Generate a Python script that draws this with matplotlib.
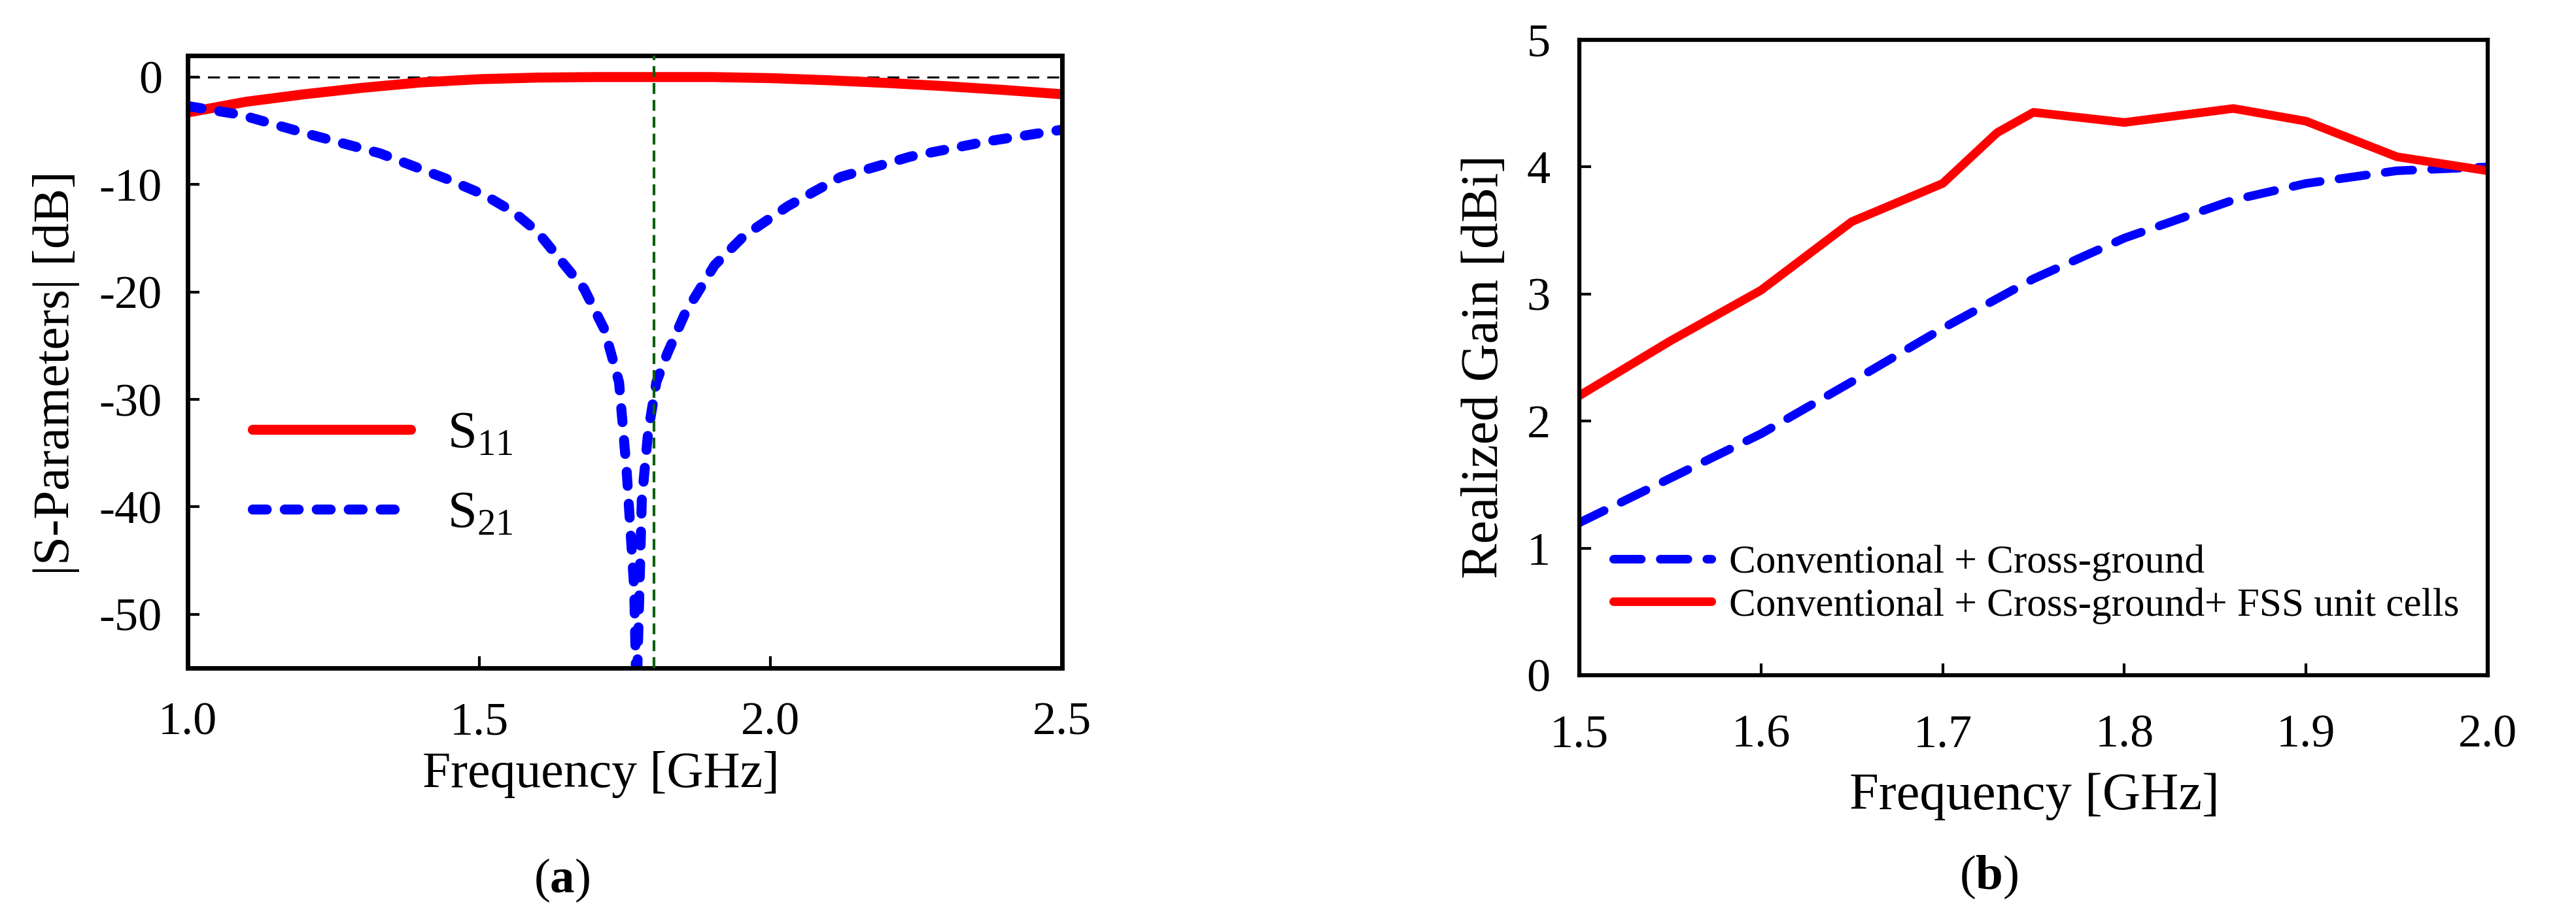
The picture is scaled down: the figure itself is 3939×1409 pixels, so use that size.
import matplotlib
matplotlib.use("Agg")
import matplotlib.pyplot as plt
import numpy as np

plt.rcParams['font.family'] = ['Liberation Serif', 'DejaVu Serif']
plt.rcParams['mathtext.fontset'] = 'custom'
plt.rcParams['mathtext.rm'] = 'Liberation Serif'
plt.rcParams['mathtext.it'] = 'Liberation Serif:italic'
plt.rcParams['mathtext.bf'] = 'Liberation Serif:bold'
plt.rcParams['axes.unicode_minus'] = False

# ---- panel (a): S-parameters ----
freq_s11 = [1.0, 1.1, 1.2, 1.3, 1.4, 1.5, 1.6, 1.7, 1.8, 1.9, 2.0, 2.1, 2.2, 2.3, 2.4, 2.5]
s11 = [-3.3, -2.3, -1.6, -1.0, -0.5, -0.2, -0.05, 0.0, 0.0, 0.0, -0.1, -0.3, -0.55, -0.85, -1.2, -1.6]

freq_s21 = [1.0, 1.09, 1.2, 1.33, 1.45, 1.51, 1.56, 1.6, 1.63, 1.68, 1.715, 1.74, 1.753, 1.766, 1.770,
            1.779, 1.79, 1.804, 1.823, 1.854, 1.904, 1.954, 2.03, 2.12, 2.24, 2.37, 2.5]
s21 = [-2.7, -3.5, -5.2, -7.1, -9.6, -11.0, -12.6, -14.4, -16.4, -19.7, -23.5, -28.4, -36.6, -47.6, -58.0,
       -39.4, -33.0, -28.4, -25.7, -21.9, -17.5, -14.8, -12.0, -9.3, -7.4, -6.0, -4.9]

f_mark = 1.8
a_xticks = [1.0, 1.5, 2.0, 2.5]
a_yticks = [0, -10, -20, -30, -40, -50]

# ---- panel (b): realized gain ----
freq_red = [1.5, 1.55, 1.6, 1.65, 1.7, 1.73, 1.75, 1.8, 1.86, 1.9, 1.95, 2.0]
gain_fss = [2.2, 2.63, 3.03, 3.57, 3.87, 4.27, 4.43, 4.35, 4.46, 4.36, 4.08, 3.97]

freq_blue = [1.5, 1.6, 1.65, 1.7, 1.75, 1.8, 1.86, 1.9, 1.95, 2.0]
gain_conv = [1.2, 1.9, 2.31, 2.73, 3.12, 3.44, 3.74, 3.87, 3.97, 4.0]

b_xticks = [1.5, 1.6, 1.7, 1.8, 1.9, 2.0]
b_yticks = [0, 1, 2, 3, 4, 5]

W, H = 3939, 1409
fig = plt.figure(figsize=(W / 100, H / 100), dpi=100)

def style_axes(ax, spine_w, ypad, xpad):
    for s in ax.spines.values():
        s.set_linewidth(spine_w)
    ax.tick_params(direction='in', length=13, width=3, labelsize=52,
                   top=False, right=False)
    ax.tick_params(axis='y', pad=ypad)
    ax.tick_params(axis='x', pad=xpad)

# panel (a)
ax1 = fig.add_axes([287 / W, 1 - 1022 / H, 1337 / W, 937 / H])
ax1.axhline(0, color='black', lw=2.2, ls=(0, (6, 4)), zorder=1)
ax1.axvline(f_mark, color='#0f5f0f', lw=3, ls=(0, (4, 2.2)), zorder=3)
ax1.plot(freq_s11, s11, color='red', lw=11, solid_capstyle='round', label=r'S$_{\mathrm{11}}$', zorder=2)
ax1.plot(freq_s21, s21, color='blue', lw=11, dashes=(1.4, 1.8), dash_capstyle='round',
         label=r'S$_{\mathrm{21}}$', zorder=2)
ax1.set_xlim(1.0, 2.5)
ax1.set_ylim(-55, 2)
ax1.set_xticks(a_xticks)
ax1.set_xticklabels([f'{v:.1f}' for v in a_xticks])
ax1.set_yticks(a_yticks)
ax1.set_yticklabels([str(v) for v in a_yticks])
style_axes(ax1, 5, 28, 37)
ax1.set_xlabel('Frequency [GHz]', fontsize=56)
ax1.xaxis.set_label_coords(0.473, -0.174)
ax1.xaxis.label.set_va('center')
ax1.set_ylabel('|S-Parameters| [dB]', fontsize=57)
ax1.yaxis.set_label_coords(-0.150, 0.482)
ax1.yaxis.label.set_va('center')
ax1.legend(loc='center left', bbox_to_anchor=(0.05, 0.315), frameon=False, fontsize=58,
           handlelength=3.0, handletextpad=0.7, labelspacing=0.6, borderaxespad=0)

# panel (b)
ax2 = fig.add_axes([2415 / W, 1 - 1033 / H, 1389 / W, 972 / H])
ax2.plot(freq_blue, gain_conv, color='blue', lw=9.5, dashes=(3.2, 2.2), dash_capstyle='round',
         label='Conventional + Cross-ground')
ax2.plot(freq_red, gain_fss, color='red', lw=9.5, solid_capstyle='round', solid_joinstyle='round',
         label='Conventional + Cross-ground+ FSS unit cells')
ax2.set_xlim(1.5, 2.0)
ax2.set_ylim(0, 5)
ax2.set_xticks(b_xticks)
ax2.set_xticklabels([f'{v:.1f}' for v in b_xticks])
ax2.set_yticks(b_yticks)
style_axes(ax2, 4.5, 32, 43)
ax2.set_xlabel('Frequency [GHz]', fontsize=58)
ax2.xaxis.set_label_coords(0.501, -0.191)
ax2.xaxis.label.set_va('center')
ax2.set_ylabel('Realized Gain [dBi]', fontsize=58)
ax2.yaxis.set_label_coords(-0.104, 0.486)
ax2.yaxis.label.set_va('center')
ax2.legend(loc='center left', bbox_to_anchor=(0.02, 0.143), frameon=False, fontsize=44,
           handlelength=2.45, handletextpad=0.45, labelspacing=0.15, borderaxespad=0)

fig.text(859 / W, 1 - 1347 / H, r'($\mathbf{a}$)', fontsize=54, ha='center', va='center')
fig.text(3041 / W, 1 - 1342 / H, r'($\mathbf{b}$)', fontsize=54, ha='center', va='center')

fig.savefig('out.png', dpi=100)
